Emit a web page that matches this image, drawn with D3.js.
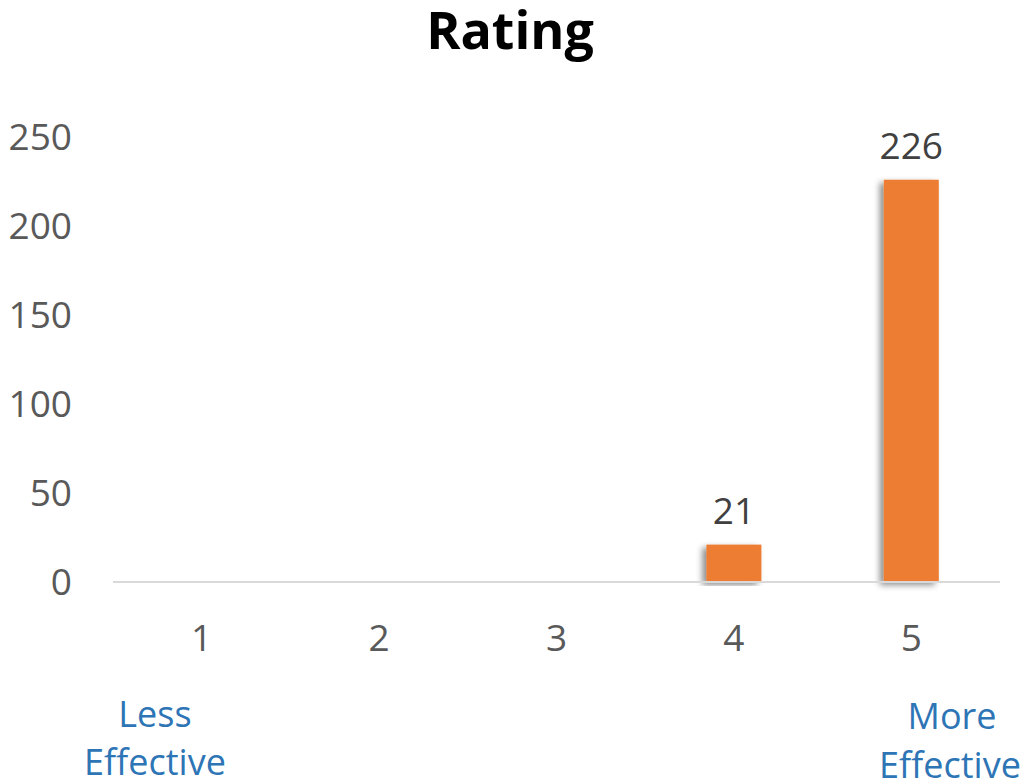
<!DOCTYPE html>
<html>

<head>
  <meta charset="utf8">
  <script src="https://d3js.org/d3.v7.min.js"></script>
  <style>
    body { margin: 0; background: #fff; }
    text { font-family: "Open Sans", sans-serif; }
    .tick-label { fill: #595959; font-size: 37px; }
    .value { fill: #404040; font-size: 37px; text-anchor: middle; }
    .note { fill: #2e75b6; font-size: 36px; text-anchor: middle; }
    .title { fill: #000; font-size: 52px; font-weight: bold; text-anchor: middle; }
  </style>
</head>

<body>
  <svg id="chart" width="1030" height="781"></svg>
  <script>
    var ratings = ['1', '2', '3', '4', '5'];
    var counts = [0, 0, 0, 21, 226];
    var yTicks = [0, 50, 100, 150, 200, 250];

    var chart = d3.select('#chart');

    var x = d3.scaleBand()
      .domain(ratings)
      .range([113, 1000])
      .paddingInner(0.69)
      .paddingOuter(0.345);

    var y = d3.scaleLinear()
      .domain([0, 250])
      .range([582, 137]);

    var defs = chart.append('defs');
    var shadow = defs.append('filter')
      .attr('id', 'shadow')
      .attr('x', '-50%').attr('y', '-10%')
      .attr('width', '200%').attr('height', '120%');
    shadow.append('feDropShadow')
      .attr('dx', -4).attr('dy', 3)
      .attr('stdDeviation', 3)
      .attr('flood-color', '#000')
      .attr('flood-opacity', 0.45);

    chart.append('text')
      .attr('class', 'title')
      .attr('x', 510)
      .attr('y', 49)
      .text('Rating');

    // y tick labels
    chart.selectAll('.ylab')
      .data(yTicks)
      .enter()
      .append('text')
      .attr('class', 'tick-label')
      .attr('text-anchor', 'end')
      .attr('x', 72)
      .attr('y', (d) => y(d) + 13)
      .text((d) => d);

    // bars
    var data = ratings.map((r, i) => ({ rating: r, count: counts[i] }));

    chart.selectAll('.bar')
      .data(data.filter((d) => d.count > 0))
      .enter()
      .append('rect')
      .attr('class', 'bar')
      .attr('x', (d) => x(d.rating))
      .attr('y', (d) => y(d.count))
      .attr('width', x.bandwidth())
      .attr('height', (d) => y(0) - y(d.count))
      .attr('fill', '#ed7d31')
      .attr('filter', 'url(#shadow)');

    // axis line
    chart.append('line')
      .attr('x1', 113).attr('x2', 1000)
      .attr('y1', y(0)).attr('y2', y(0))
      .attr('stroke', '#d9d9d9')
      .attr('stroke-width', 2);

    chart.selectAll('.value')
      .data(data.filter((d) => d.count > 0))
      .enter()
      .append('text')
      .attr('class', 'value')
      .attr('x', (d) => x(d.rating) + x.bandwidth() / 2)
      .attr('y', (d) => y(d.count) - 21)
      .text((d) => d.count);

    // x tick labels
    chart.selectAll('.xlab')
      .data(ratings)
      .enter()
      .append('text')
      .attr('class', 'tick-label')
      .attr('text-anchor', 'middle')
      .attr('x', (d) => x(d) + x.bandwidth() / 2)
      .attr('y', 651)
      .text((d) => d);

    var less = chart.append('text').attr('class', 'note');
    less.append('tspan').attr('x', 155).attr('y', 727).text('Less');
    less.append('tspan').attr('x', 155).attr('y', 775).text('Effective');

    var more = chart.append('text').attr('class', 'note');
    more.append('tspan').attr('x', 952).attr('y', 729).text('More');
    more.append('tspan').attr('x', 950).attr('y', 778).text('Effective');
  </script>
</body>

</html>
